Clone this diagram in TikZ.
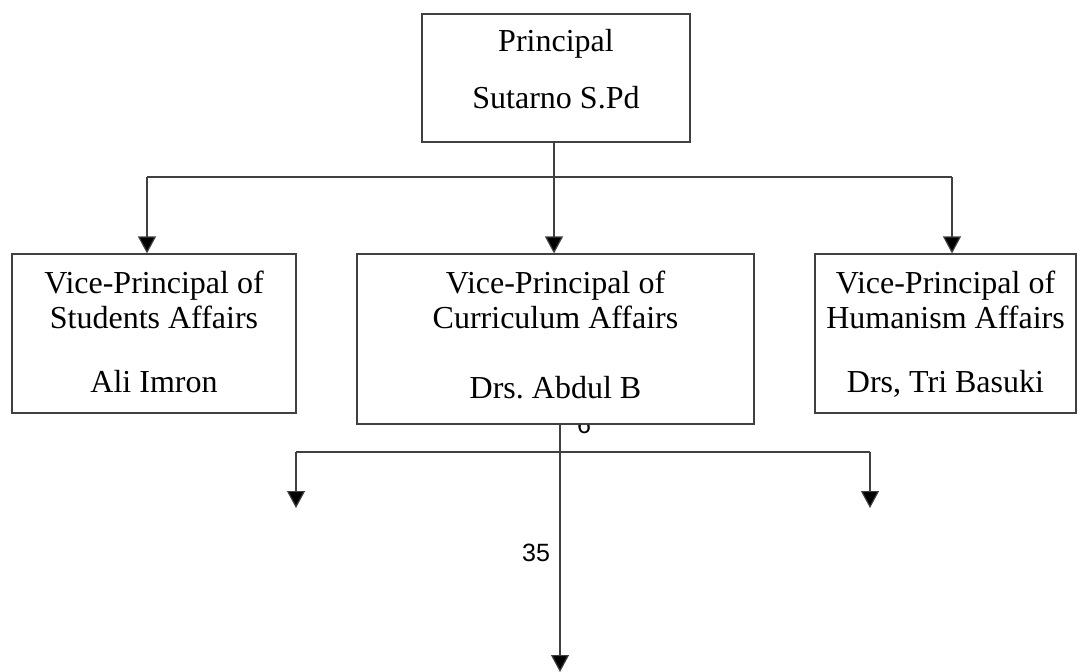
\documentclass[tikz,border=0pt]{standalone}
\usepackage{fontspec}
\setmainfont{Liberation Serif}
\newfontfamily\numfont{Liberation Sans}
\usetikzlibrary{arrows.meta,calc}
\frenchspacing
\begin{document}
\begin{tikzpicture}[x=1pt,y=-1pt,
  conn/.style={draw=black!75,line width=1.2pt},
  arr/.style={conn,-{Triangle[width=18pt,length=17pt,fill=black]}},
  orgbox/.style={draw=black!75,line width=1.2pt,fill=white,rectangle,inner sep=0pt},
  lbl/.style={anchor=base,inner sep=0pt,font=\fontsize{32}{35}\selectfont},
  num/.style={anchor=base,inner sep=0pt,font=\numfont\fontsize{25}{28}\selectfont}]
\useasboundingbox (0,0) rectangle (1088,672);
% stray page number partly hidden under the middle box
\node[num] (six) at (584,433) {6};
% boxes
\node[orgbox,minimum width=268pt,minimum height=128pt] (p) at (556,78) {};
\node[orgbox,minimum width=284pt,minimum height=159pt] (s) at (154,333.5) {};
\node[orgbox,minimum width=397pt,minimum height=170pt] (m) at (555.5,339) {};
\node[orgbox,minimum width=261pt,minimum height=159pt] (h) at (945.5,333.5) {};
% texts
\node[lbl] (p1) at (556,51) {Principal};
\node[lbl] (p2) at (556,108) {Sutarno S.Pd};
\node[lbl] (s1) at (154,293) {Vice-Principal of};
\node[lbl] (s2) at (154,328) {Students Affairs};
\node[lbl] (s3) at (154,392) {Ali Imron};
\node[lbl] (m1) at (555.5,293) {Vice-Principal of};
\node[lbl] (m2) at (555.5,328) {Curriculum Affairs};
\node[lbl] (m3) at (555.5,398) {Drs. Abdul B};
\node[lbl] (h1) at (945.5,293) {Vice-Principal of};
\node[lbl] (h2) at (945.5,328) {Humanism Affairs};
\node[lbl] (h3) at (945.5,392) {Drs, Tri Basuki};
\node[num] (n35) at (536,561) {35};
% upper connectors
\coordinate (jc) at (554,177);
\coordinate (jl) at (147,177);
\coordinate (jr) at (952,177);
\draw[conn] (p.south -| jc) -- (jc);
\draw[conn] (jl) -- (jr);
\draw[arr] (jl) -- (jl |- s.north);
\draw[arr] (jc) -- (jc |- m.north);
\draw[arr] (jr) -- (jr |- h.north);
% lower connectors
\coordinate (kc) at (560,452);
\coordinate (kl) at (296,452);
\coordinate (kr) at (870,452);
\coordinate (al) at (296,508);
\coordinate (ar) at (870,508);
\coordinate (ab) at (560,672);
\draw[conn] (kl) -- (kr);
\draw[arr] (m.south -| kc) -- (ab);
\draw[arr] (kl) -- (al);
\draw[arr] (kr) -- (ar);
\end{tikzpicture}
\end{document}
